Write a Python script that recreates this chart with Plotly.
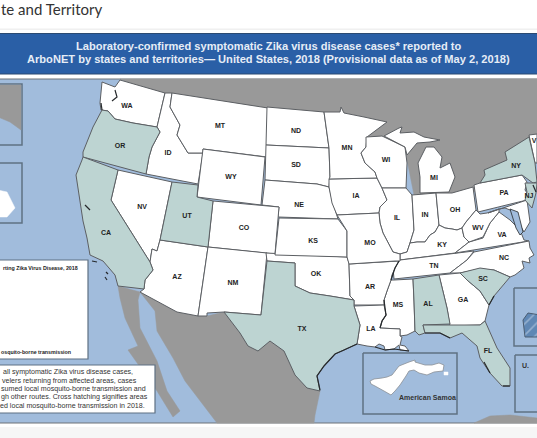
import plotly.graph_objects as go

# no topojson offline, so the outlines are read off the picture (x, y in page pixels)
WA = [(120,80),(165,93),(157,127),(133,123),(115,119),(108,111),(101,110),(100,103),(102,82),(115,87)]
OR = [(102,110),(108,111),(115,119),(133,123),(157,127),(160,132),(152,147),(149,157),(146,174),(83,157),(83,152),(93,127)]
ID = [(165,93),(172,93),(170,107),(180,125),(177,135),(188,153),(203,153),(198,184),(146,174),(149,157),(152,147),(160,132),(157,127)]
MT = [(172,93),(268,108),(267,157),(203,149),(203,153),(188,153),(177,135),(180,125),(170,107)]
ND = [(267,107),(324,112),(329,148),(266,145)]
WY = [(203,149),(265,157),(261,205),(197,197)]
SD = [(266,145),(329,148),(330,177),(329,187),(317,184),(265,180)]
NE = [(265,180),(317,184),(329,187),(333,203),(338,219),(278,217),(279,207),(262,205)]
CO = [(213,201),(279,207),(275,254),(208,247)]
UT = [(172,182),(198,185),(197,197),(213,201),(208,247),(160,240)]
NV = [(118,170),(172,182),(160,240),(157,251),(152,249),(150,262),(111,200)]
CA = [(83,157),(118,170),(111,200),(150,262),(153,270),(145,280),(144,289),(118,286),(115,275),(103,261),(90,255),(87,238),(83,221),(76,175),(82,160)]
AZ = [(160,240),(208,247),(198,316),(177,312),(140,292),(144,289),(145,280),(153,270),(150,262),(152,249),(157,251)]
NM = [(208,247),(267,253),(261,315),(224,312),(207,313),(207,316),(198,316)]
TX = [(267,261),(295,263),(295,286),(310,293),(330,296),(354,300),(354,306),(360,325),(357,344),(344,350),(335,354),(324,366),(317,376),(320,391),(307,388),(295,375),(284,351),(270,341),(258,351),(248,346),(240,333),(224,312),(261,315)]
OK = [(266,253),(347,257),(349,263),(350,296),(354,300),(330,296),(310,293),(295,286),(295,263),(267,261)]
KS = [(279,218),(338,219),(347,231),(347,257),(275,255)]
IA = [(329,179),(377,178),(382,188),(387,200),(380,207),(379,213),(337,215),(332,203),(329,187)]
MN = [(324,112),(340,112),(341,107),(344,113),(364,117),(387,122),(367,137),(366,147),(361,153),(365,163),(375,172),(377,178),(329,179),(330,177),(329,148)]
WI = [(366,137),(382,136),(405,147),(406,155),(407,163),(406,188),(382,188),(377,178),(375,172),(365,163),(361,153),(366,147)]
MI_UP = [(384,136),(399,128),(402,127),(400,133),(414,132),(424,137),(440,140),(430,142),(417,143),(407,155),(405,147)]
MI_LOW = [(426,147),(418,163),(420,177),(420,193),(449,192),(455,177),(450,163),(440,168),(442,157),(434,147)]
IL = [(385,188),(406,188),(412,195),(414,230),(410,243),(407,252),(400,254),(393,252),(383,233),(380,223),(379,213),(380,207),(387,200),(382,188)]
IN = [(412,195),(436,193),(439,225),(435,232),(430,235),(425,242),(417,242),(410,243),(414,230)]
OH = [(436,193),(452,193),(473,187),(476,210),(466,222),(462,228),(457,230),(452,229),(445,228),(439,225)]
KY = [(410,243),(417,242),(425,242),(430,235),(435,232),(439,225),(445,228),(452,229),(457,230),(462,228),(464,237),(469,242),(455,253),(400,260),(400,254),(407,252)]
TN = [(400,260),(474,251),(467,260),(450,273),(394,279),(393,268),(399,261)]
VA = [(455,253),(469,242),(483,238),(490,223),(499,212),(510,220),(520,230),(524,240),(529,241)]
WV = [(476,210),(480,214),(487,213),(499,209),(499,212),(490,223),(483,237),(469,242),(464,237),(462,228),(466,222)]
NC = [(529,241),(530,248),(534,255),(529,258),(530,263),(522,261),(524,268),(515,275),(510,277),(494,270),(480,269),(460,273),(450,273),(467,260),(474,252)]
SC = [(460,273),(480,268),(494,270),(510,277),(494,296),(489,305),(480,291),(467,280)]
GA = [(439,275),(460,273),(467,280),(480,291),(489,305),(485,321),(480,325),(450,326),(447,308)]
AL = [(413,279),(439,275),(447,308),(450,324),(423,325),(425,333),(419,335),(415,331),(414,301)]
MS = [(394,280),(413,279),(414,301),(415,331),(407,335),(400,336),(400,329),(380,328),(382,321),(386,315),(384,306),(384,300),(387,291),(391,280)]
AR = [(349,264),(399,261),(395,268),(392,275),(391,280),(387,291),(384,300),(384,305),(354,305),(354,300),(350,296)]
LA = [(354,306),(384,305),(386,315),(382,321),(380,328),(400,329),(400,336),(402,337),(400,345),(405,346),(409,351),(400,350),(399,345),(394,349),(385,350),(384,346),(379,344),(375,347),(367,346),(357,344),(360,325)]
MO = [(337,215),(379,213),(380,223),(383,233),(393,252),(400,254),(400,261),(395,261),(349,264),(347,257),(347,231)]
PA = [(474,185),(480,183),(522,175),(527,182),(525,190),(532,200),(527,200),(478,212)]
NY = [(480,183),(485,175),(484,170),(507,160),(505,152),(529,137),(535,163),(537,182),(533,183),(522,175)]
NJ = [(525,183),(537,183),(536,193),(532,208),(525,200),(527,192)]
VT = [(529,135),(537,134),(537,163),(535,163)]
MD = [(488,213),(527,200),(530,222),(524,232),(520,225),(515,212),(505,208),(499,209)]
FL = [(423,325),(450,325),(480,325),(485,321),(497,348),(510,368),(510,386),(502,386),(490,373),(480,358),(477,346),(462,333),(450,338),(440,333),(425,333)]

white_states = [WA, ID, MT, ND, WY, SD, NE, CO, NV, AZ, NM, OK, KS, IA, MN, WI, MI_UP, MI_LOW, IL, IN, OH, KY, TN, VA, WV, NC, GA, MS, AR, LA, MO, PA, VT, MD]
zika_states = [OR, CA, UT, TX, AL, SC, FL, NY, NJ]

state_labels = ["WA","OR","ID","MT","WY","ND","SD","NE","MN","WI","MI","IA","IL","IN","OH","KY","WV","VA","PA","NY","NJ","NC","TN","SC","GA","AL","MS","LA","AR","MO","KS","OK","TX","FL","CO","NM","AZ","NV","UT","CA","V"]
label_x = [127,120,168,220,231,296,296,299,347,386,434,356,397,425,455,442,478,502,504,516,529,504,434,483,463,428,398,371,370,370,313,316,302,488,244,233,177,142,187,106,534]
label_y = [106,146,153,126,177,131,165,205,148,160,178,196,218,215,210,245,228,235,193,166,196,258,266,279,300,304,305,329,287,243,241,274,329,351,228,283,277,207,216,233,141]

canada = [(120,79),(540,79),(540,134),(480,190),(449,200),(415,200),(405,150),(330,150),(200,140),(165,100)]
mexico = [(140,292),(177,312),(198,316),(207,316),(224,312),(240,333),(248,346),(258,351),(270,341),(284,351),(295,375),(307,388),(320,391),(315,415),(314,423),(217,423),(185,381),(173,358),(157,331),(155,311)]
baja = [(118,286),(140,292),(138,300),(140,328),(157,361),(167,391),(180,411),(173,417),(157,391),(128,350),(138,346),(125,318),(120,298)]
cuba = [(474,423),(490,416),(510,415),(537,418),(537,423)]
chesapeake = [(510,209),(518,212),(523,232),(520,235),(516,228)]

alaska_box = [(-2,84),(22,84),(22,145),(-2,145)]
alaska = [(-2,85),(21,85),(21,130),(10,122),(-2,117)]
hawaii_box = [(-2,163),(22,163),(22,223),(-2,223)]
hawaii = [(-2,190),(7,192),(15,208),(7,217),(-2,217)]
samoa_box = [(363,353),(457,353),(457,414),(363,414)]
samoa = [(370,381),(374,379),(382,378),(387,377),(392,375),(399,366),(409,362),(415,360),(415,362),(425,365),(432,365),(439,363),(444,365),(443,371),(434,372),(427,375),(419,373),(414,370),(409,371),(406,376),(400,385),(395,391),(391,395),(384,391),(375,386),(371,384)]
samoa_islet = [(444,372),(448,372),(448,375),(444,375)]
pr_box = [(514,288),(540,288),(540,346),(514,346)]
puerto_rico = [(523,320),(528,313),(540,315),(540,337),(525,337)]
vi_box = [(515,355),(540,355),(540,412),(515,412)]
legend_box = [(-2,260),(88,260),(88,359),(-2,359)]
note_box = [(-2,365),(155,365),(155,413),(-2,413)]

coast_lines = [
    [(115,90),(117,97),(112,101)],
    [(101,103),(102,110)],
    [(85,205),(90,210)],
    [(320,390),(317,376),(324,366),(335,354),(344,350),(357,344)],
    [(375,347),(385,350),(394,349),(409,351)],
    [(384,300),(386,315),(382,321),(380,328)],
    [(391,280),(395,268),(399,261)],
    [(425,333),(440,333),(450,338)],
    [(489,305),(494,296)],
    [(503,386),(510,386)],
    [(490,373),(484,362)],
    [(533,185),(536,192)],
    [(92,261),(97,262)],
    [(106,272),(108,274)],
    [(105,277),(107,280)],
]

note_lines = ["all symptomatic Zika virus disease cases,", "velers returning from affected areas, cases", "sumed local mosquito-borne transmission and", "gh other routes. Cross hatching signifies areas", "ed local mosquito-borne transmission in 2018."]
note_y = [372,381,389,397,406]
note_right = [135,139,148,150,147]

STATE_LINE = "#5c5f63"
OCEAN = "#a1bcdc"
LAND = "#999999"
TEAL = "#bdd4d2"
BOX = "#5f7183"

fig = go.Figure()

def add_poly(points, fill, line=None, width=1, **kw):
    xs = [p[0] for p in points] + [points[0][0]]
    ys = [p[1] for p in points] + [points[0][1]]
    fig.add_trace(go.Scatter(x=xs, y=ys, mode="lines", fill="toself", fillcolor=fill,
                             line=dict(color=line or fill, width=width if line else 0.5, simplify=False),
                             hoverinfo="skip", showlegend=False, **kw))

for land in [canada, mexico, baja, cuba]:
    add_poly(land, LAND)
for s in white_states:
    add_poly(s, "white", STATE_LINE, 1)
for s in zika_states:
    add_poly(s, TEAL, STATE_LINE, 1)
add_poly(chesapeake, OCEAN, "#26292c", 0.8)

for c in coast_lines:
    fig.add_trace(go.Scatter(x=[p[0] for p in c], y=[p[1] for p in c], mode="lines",
                             line=dict(color="#26292c", width=1.2), hoverinfo="skip", showlegend=False))

add_poly(alaska_box, OCEAN, BOX, 1.5)
add_poly(alaska, LAND)
add_poly(hawaii_box, OCEAN, BOX, 1.5)
add_poly(hawaii, "white")
add_poly(samoa_box, OCEAN, BOX, 1.5)
add_poly(samoa, "white", "#8a8f95", 0.8)
add_poly(samoa_islet, "white")
add_poly(pr_box, OCEAN, BOX, 1.5)
add_poly(puerto_rico, "#5f87b4", "#4a5d72", 1,
         fillpattern=dict(shape="/", fgcolor="#c9d8e8", bgcolor="#5f87b4", size=8, solidity=0.2))
add_poly(vi_box, OCEAN, BOX, 1.5)
add_poly(legend_box, "white", BOX, 1.2)
add_poly(note_box, "white", BOX, 1.2)

fig.add_trace(go.Scatter(x=label_x, y=label_y, mode="text", text=["<b>%s</b>" % s for s in state_labels],
                         textfont=dict(family="Liberation Sans", size=7, color="#222222"),
                         textposition="middle center", hoverinfo="skip", showlegend=False))

# page furniture
fig.add_shape(type="rect", x0=-2, x1=539, y0=79, y1=423, fillcolor=OCEAN, line=dict(color="#6d7279", width=1), layer="below")
fig.add_shape(type="rect", x0=-2, x1=539, y0=33.5, y1=74, fillcolor="#2a5fa6", line=dict(color="#2b4a72", width=1), layer="below")
fig.add_shape(type="rect", x0=0, x1=537, y0=28.5, y1=30, fillcolor="#f0f0f0", line=dict(width=0), layer="below")
fig.add_shape(type="rect", x0=0, x1=537, y0=427, y1=438, fillcolor="#f6f6f6", line=dict(width=0), layer="below")

def add_text(x, y, text, size, color="#333333", bold=False, anchor="left", family="Liberation Sans"):
    fig.add_annotation(x=x, y=y, text="<b>%s</b>" % text if bold else text, showarrow=False,
                       xanchor=anchor, yanchor="middle",
                       font=dict(family=family, size=size, color=color))

add_text(104, 8.5, "te and Territory", 15, "#333333", anchor="right", family="Lato")
add_text(268.5, 46, "Laboratory-confirmed symptomatic Zika virus disease cases* reported to", 11.1, "#e6edf6", True, "center")
add_text(268.5, 59, "ArboNET by states and territories\u2014 United States, 2018 (Provisional data as of May 2, 2018)", 11.1, "#e6edf6", True, "center")
add_text(80, 268, "rting Zika Virus Disease, 2018", 5.3, "#222222", True, "right")
add_text(73, 352, "osquito-borne transmission", 5.3, "#222222", True, "right")
for line, x, y in zip(note_lines, note_right, note_y):
    add_text(x, y, line, 7.1, "#333333", anchor="right")
add_text(427, 397, "American Samoa", 7, "#333333", True, "center")
add_text(520, 365, "U.", 7, "#333333", True, "left")

fig.update_layout(width=537, height=438, margin=dict(l=0, r=0, t=0, b=0),
                  paper_bgcolor="white", plot_bgcolor="white",
                  xaxis=dict(range=[0, 537], visible=False, fixedrange=True),
                  yaxis=dict(range=[438, 0], visible=False, fixedrange=True))

fig.write_html("out.html", post_script="document.body.style.margin='0';document.body.style.overflow='hidden';",
               config={"displayModeBar": False})
